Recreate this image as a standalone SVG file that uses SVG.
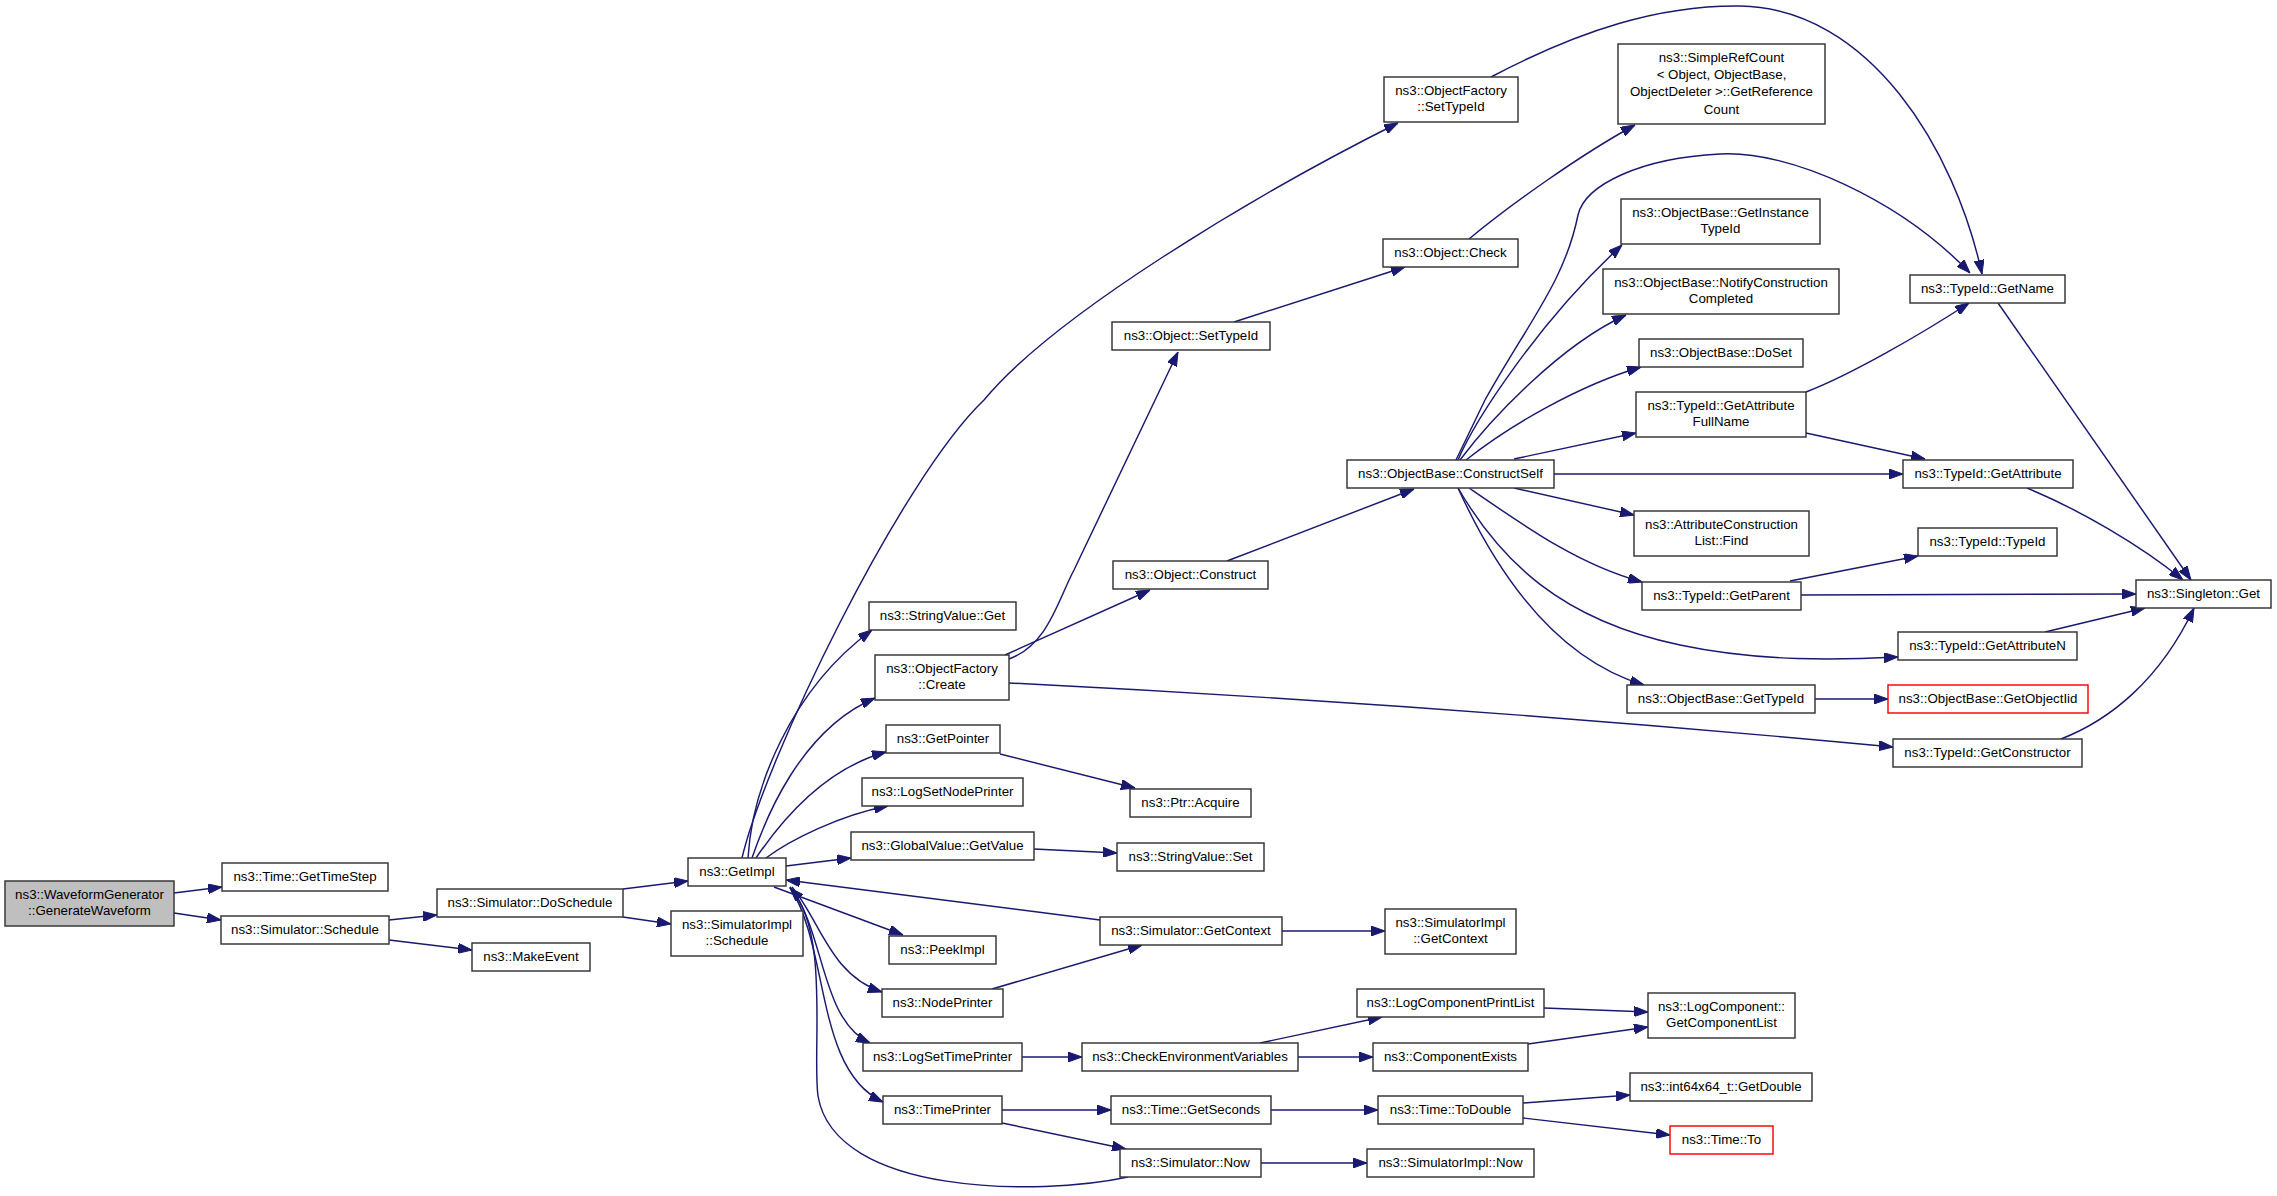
<svg xmlns="http://www.w3.org/2000/svg" width="2277" height="1196" viewBox="0 0 2277 1196">
<style>
.node rect{fill:#ffffff;stroke:#333333;stroke-width:1.45}
.root rect{fill:#bfbfbf}
.red rect{stroke:#ff0000}
text{font-family:"Liberation Sans",Arial,Helvetica,sans-serif;font-size:13.3px;text-anchor:middle;fill:#000000}
.edges path{fill:none;stroke:#191970;stroke-width:1.45;marker-end:url(#arrow)}
</style>
<defs>
<marker id="arrow" markerUnits="userSpaceOnUse" markerWidth="14" markerHeight="10" viewBox="0 0 14 10" refX="14" refY="5" orient="auto">
<path d="M0,0 L14,5 L0,10 Z" fill="#191970" stroke="#191970" stroke-width="1"/>
</marker>
</defs>
<rect x="0" y="0" width="2277" height="1196" fill="#ffffff"/>
<g id="connectors" class="edges">
<path d="M174,893 L222,887"/>
<path d="M174,913 L221,920"/>
<path d="M389,920 L437,915"/>
<path d="M389,940 L472,950"/>
<path d="M623,889 L688,881"/>
<path d="M623,917 L671,924"/>
<path d="M742,858 C765,760 900,480 984,400 C1054,315 1256,194 1398,123"/>
<path d="M748,858 C752,790 790,690 872,630"/>
<path d="M752,858 C765,820 800,730 875,698"/>
<path d="M756,858 C775,830 820,770 886,752"/>
<path d="M766,858 C790,840 840,815 888,806"/>
<path d="M786,866 L851,858"/>
<path d="M774,887 L903,935"/>
<path d="M792,887 C820,920 830,975 882,992"/>
<path d="M790,887 C825,930 820,1020 870,1043"/>
<path d="M790,887 C830,950 815,1070 883,1102"/>
<path d="M1100,920 L786,880"/>
<path d="M1128,1177 C1040,1196 835,1196 818,1096 C812,1050 830,930 790,888"/>
<path d="M1009,659 C1048,645 1058,600 1074,570 L1178,352"/>
<path d="M1005,655 L1150,590"/>
<path d="M1009,683 Q1450,705 1893,747"/>
<path d="M1000,754 L1135,788"/>
<path d="M1034,849 L1117,853"/>
<path d="M1282,931 L1385,931"/>
<path d="M992,989 L1142,945"/>
<path d="M1022,1057 L1082,1057"/>
<path d="M1002,1110 L1111,1110"/>
<path d="M1002,1123 L1126,1149"/>
<path d="M1261,1163 L1367,1163"/>
<path d="M1260,1043 L1382,1017"/>
<path d="M1298,1057 L1373,1057"/>
<path d="M1544,1008 L1648,1012"/>
<path d="M1528,1044 L1648,1027"/>
<path d="M1270,1110 L1378,1110"/>
<path d="M1523,1103 L1630,1095"/>
<path d="M1523,1118 L1670,1135"/>
<path d="M1234,322 L1405,267"/>
<path d="M1469,239 C1510,205 1580,155 1635,125"/>
<path d="M1227,561 L1414,489"/>
<path d="M1458,460 C1475,420 1540,320 1622,245"/>
<path d="M1460,460 C1490,420 1560,345 1626,315"/>
<path d="M1466,460 C1510,425 1580,385 1641,367"/>
<path d="M1514,459 L1636,433"/>
<path d="M1554,474 L1903,474"/>
<path d="M1514,488 L1634,515"/>
<path d="M1469,488 C1530,530 1580,565 1642,582"/>
<path d="M1458,488 C1500,560 1560,620 1680,645 C1760,662 1840,660 1898,657"/>
<path d="M1458,488 C1500,580 1560,660 1644,685"/>
<path d="M1806,392 C1850,375 1920,335 1969,303"/>
<path d="M1806,433 L1925,459"/>
<path d="M1998,303 L2191,580"/>
<path d="M2027,488 C2080,510 2140,545 2183,580"/>
<path d="M1790,581 L1918,556"/>
<path d="M1800,595 L2136,594"/>
<path d="M2045,632 L2145,608"/>
<path d="M1815,699 L1888,699"/>
<path d="M2061,739 C2110,720 2160,680 2194,608"/>
<path d="M1491,77 C1580,30 1660,5 1740,6 C1870,8 1955,150 1982,274"/>
<path d="M1456,460 L1485,400 C1530,320 1565,280 1578,215 C1585,185 1640,158 1720,154 C1790,150 1900,200 1970,273"/>
</g>
<g id="n_wg" class="node root"><rect x="5" y="881" width="169" height="45"/><text x="89.5" y="898.5">ns3::WaveformGenerator</text><text x="89.5" y="915.2">::GenerateWaveform</text></g>
<g id="n_gettimestep" class="node"><rect x="222" y="863" width="166" height="28"/><text x="305" y="880.7">ns3::Time::GetTimeStep</text></g>
<g id="n_schedule" class="node"><rect x="221" y="916" width="168" height="28"/><text x="305" y="933.7">ns3::Simulator::Schedule</text></g>
<g id="n_doschedule" class="node"><rect x="437" y="889" width="186" height="28"/><text x="530" y="906.7">ns3::Simulator::DoSchedule</text></g>
<g id="n_makeevent" class="node"><rect x="472" y="943" width="118" height="28"/><text x="531" y="960.7">ns3::MakeEvent</text></g>
<g id="n_getimpl" class="node"><rect x="688" y="858" width="98" height="28"/><text x="737" y="875.7">ns3::GetImpl</text></g>
<g id="n_simimpl_schedule" class="node"><rect x="671" y="911" width="132" height="45"/><text x="737" y="928.5">ns3::SimulatorImpl</text><text x="737" y="945.2">::Schedule</text></g>
<g id="n_of_settypeid" class="node"><rect x="1384" y="77" width="134" height="45"/><text x="1451" y="94.5">ns3::ObjectFactory</text><text x="1451" y="111.2">::SetTypeId</text></g>
<g id="n_obj_settypeid" class="node"><rect x="1112" y="322" width="158" height="28"/><text x="1191" y="339.7">ns3::Object::SetTypeId</text></g>
<g id="n_obj_check" class="node"><rect x="1383" y="239" width="135" height="28"/><text x="1450.5" y="256.7">ns3::Object::Check</text></g>
<g id="n_simplerefcount" class="node"><rect x="1618" y="44" width="207" height="80"/><text x="1721.5" y="62.2">ns3::SimpleRefCount</text><text x="1721.5" y="79.3">&lt; Object, ObjectBase,</text><text x="1721.5" y="96.4">ObjectDeleter &gt;::GetReference</text><text x="1721.5" y="113.5">Count</text></g>
<g id="n_stringvalue_get" class="node"><rect x="869" y="602" width="147" height="28"/><text x="942.5" y="619.7">ns3::StringValue::Get</text></g>
<g id="n_of_create" class="node"><rect x="875" y="655" width="134" height="45"/><text x="942" y="672.5">ns3::ObjectFactory</text><text x="942" y="689.2">::Create</text></g>
<g id="n_obj_construct" class="node"><rect x="1113" y="561" width="155" height="28"/><text x="1190.5" y="578.7">ns3::Object::Construct</text></g>
<g id="n_constructself" class="node"><rect x="1347" y="460" width="207" height="28"/><text x="1450.5" y="477.7">ns3::ObjectBase::ConstructSelf</text></g>
<g id="n_getinstancetypeid" class="node"><rect x="1621" y="199" width="199" height="45"/><text x="1720.5" y="216.5">ns3::ObjectBase::GetInstance</text><text x="1720.5" y="233.2">TypeId</text></g>
<g id="n_notify" class="node"><rect x="1603" y="269" width="236" height="45"/><text x="1721" y="286.5">ns3::ObjectBase::NotifyConstruction</text><text x="1721" y="303.2">Completed</text></g>
<g id="n_doset" class="node"><rect x="1639" y="339" width="164" height="28"/><text x="1721" y="356.7">ns3::ObjectBase::DoSet</text></g>
<g id="n_getattrfullname" class="node"><rect x="1636" y="392" width="170" height="45"/><text x="1721" y="409.5">ns3::TypeId::GetAttribute</text><text x="1721" y="426.2">FullName</text></g>
<g id="n_getname" class="node"><rect x="1910" y="275" width="155" height="28"/><text x="1987.5" y="292.7">ns3::TypeId::GetName</text></g>
<g id="n_getattribute" class="node"><rect x="1903" y="460" width="170" height="28"/><text x="1988" y="477.7">ns3::TypeId::GetAttribute</text></g>
<g id="n_acl_find" class="node"><rect x="1634" y="511" width="175" height="45"/><text x="1721.5" y="528.5">ns3::AttributeConstruction</text><text x="1721.5" y="545.2">List::Find</text></g>
<g id="n_typeid_typeid" class="node"><rect x="1918" y="528" width="139" height="28"/><text x="1987.5" y="545.7">ns3::TypeId::TypeId</text></g>
<g id="n_getparent" class="node"><rect x="1642" y="582" width="159" height="28"/><text x="1721.5" y="599.7">ns3::TypeId::GetParent</text></g>
<g id="n_singleton" class="node"><rect x="2136" y="580" width="135" height="28"/><text x="2203.5" y="597.7">ns3::Singleton::Get</text></g>
<g id="n_getattributen" class="node"><rect x="1898" y="632" width="179" height="28"/><text x="1987.5" y="649.7">ns3::TypeId::GetAttributeN</text></g>
<g id="n_getobjectiid" class="node red"><rect x="1888" y="685" width="200" height="28"/><text x="1988" y="702.7">ns3::ObjectBase::GetObjectIid</text></g>
<g id="n_ob_gettypeid" class="node"><rect x="1627" y="685" width="188" height="28"/><text x="1721" y="702.7">ns3::ObjectBase::GetTypeId</text></g>
<g id="n_getconstructor" class="node"><rect x="1893" y="739" width="189" height="28"/><text x="1987.5" y="756.7">ns3::TypeId::GetConstructor</text></g>
<g id="n_getpointer" class="node"><rect x="886" y="725" width="114" height="28"/><text x="943" y="742.7">ns3::GetPointer</text></g>
<g id="n_ptr_acquire" class="node"><rect x="1130" y="789" width="121" height="28"/><text x="1190.5" y="806.7">ns3::Ptr::Acquire</text></g>
<g id="n_logsetnodeprinter" class="node"><rect x="862" y="778" width="161" height="28"/><text x="942.5" y="795.7">ns3::LogSetNodePrinter</text></g>
<g id="n_globalvalue" class="node"><rect x="851" y="832" width="183" height="28"/><text x="942.5" y="849.7">ns3::GlobalValue::GetValue</text></g>
<g id="n_stringvalue_set" class="node"><rect x="1117" y="843" width="147" height="28"/><text x="1190.5" y="860.7">ns3::StringValue::Set</text></g>
<g id="n_sim_getcontext" class="node"><rect x="1100" y="917" width="182" height="28"/><text x="1191" y="934.7">ns3::Simulator::GetContext</text></g>
<g id="n_simimpl_getcontext" class="node"><rect x="1385" y="909" width="131" height="45"/><text x="1450.5" y="926.5">ns3::SimulatorImpl</text><text x="1450.5" y="943.2">::GetContext</text></g>
<g id="n_peekimpl" class="node"><rect x="889" y="936" width="107" height="28"/><text x="942.5" y="953.7">ns3::PeekImpl</text></g>
<g id="n_nodeprinter" class="node"><rect x="882" y="989" width="121" height="28"/><text x="942.5" y="1006.7">ns3::NodePrinter</text></g>
<g id="n_logsettimeprinter" class="node"><rect x="863" y="1043" width="159" height="28"/><text x="942.5" y="1060.7">ns3::LogSetTimePrinter</text></g>
<g id="n_checkenv" class="node"><rect x="1082" y="1043" width="216" height="28"/><text x="1190" y="1060.7">ns3::CheckEnvironmentVariables</text></g>
<g id="n_logcompprintlist" class="node"><rect x="1357" y="989" width="187" height="28"/><text x="1450.5" y="1006.7">ns3::LogComponentPrintList</text></g>
<g id="n_getcomponentlist" class="node"><rect x="1648" y="993" width="147" height="45"/><text x="1721.5" y="1010.5">ns3::LogComponent::</text><text x="1721.5" y="1027.2">GetComponentList</text></g>
<g id="n_componentexists" class="node"><rect x="1373" y="1043" width="155" height="28"/><text x="1450.5" y="1060.7">ns3::ComponentExists</text></g>
<g id="n_timeprinter" class="node"><rect x="883" y="1096" width="119" height="28"/><text x="942.5" y="1113.7">ns3::TimePrinter</text></g>
<g id="n_getseconds" class="node"><rect x="1111" y="1096" width="160" height="28"/><text x="1191" y="1113.7">ns3::Time::GetSeconds</text></g>
<g id="n_todouble" class="node"><rect x="1378" y="1096" width="145" height="28"/><text x="1450.5" y="1113.7">ns3::Time::ToDouble</text></g>
<g id="n_getdouble" class="node"><rect x="1630" y="1073" width="182" height="28"/><text x="1721" y="1090.7">ns3::int64x64_t::GetDouble</text></g>
<g id="n_timeto" class="node red"><rect x="1670" y="1126" width="103" height="28"/><text x="1721.5" y="1143.7">ns3::Time::To</text></g>
<g id="n_sim_now" class="node"><rect x="1120" y="1149" width="141" height="28"/><text x="1190.5" y="1166.7">ns3::Simulator::Now</text></g>
<g id="n_simimpl_now" class="node"><rect x="1367" y="1149" width="167" height="28"/><text x="1450.5" y="1166.7">ns3::SimulatorImpl::Now</text></g>
</svg>
